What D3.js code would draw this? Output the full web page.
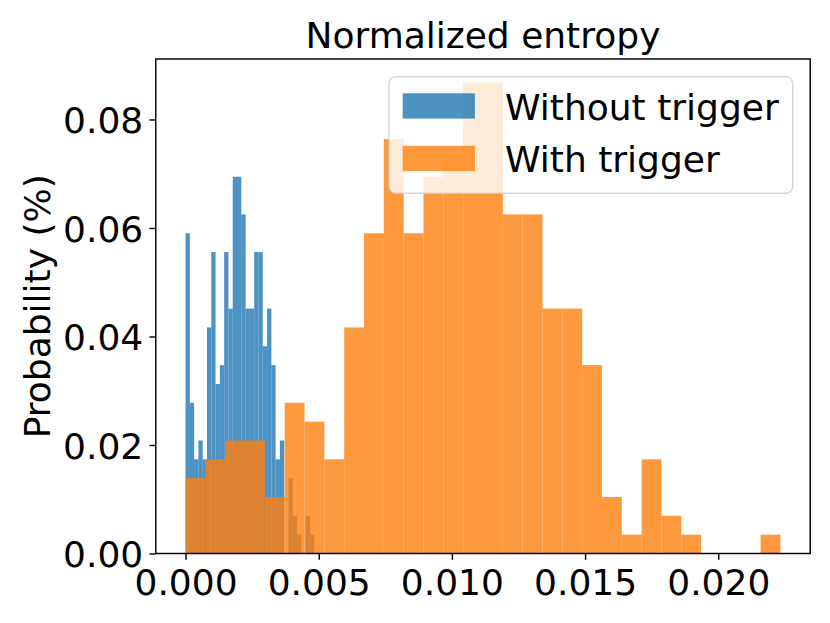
<!DOCTYPE html>
<html lang="en">

<head>
	<meta charset="utf-8">
	<title>Normalized entropy</title>
	<style>
		body { margin: 0; background: #fff; }
		svg { display: block; font-family: "DejaVu Sans", sans-serif; }
	</style>
</head>

<body>
	<script src="https://cdn.jsdelivr.net/npm/d3@7"></script>
	<script>
		// histogram counts per bin (30 bins each)
		const seriesNames = ["Without trigger", "With trigger"];
		const withoutCounts = [17, 8, 5, 6, 5, 12, 16, 9, 10, 16, 13, 20, 20, 18, 13,
			13, 16, 16, 11, 13, 10, 5, 6, 0, 4, 2, 1, 0, 2, 1];
		const withCounts = [4, 5, 6, 6, 3, 8, 7, 5, 12, 17, 22, 17, 20, 21, 25,
			25, 18, 18, 13, 13, 10, 3, 1, 5, 2, 1, 0, 0, 0, 1];
		const withoutRange = [0, 0.004832];
		const withRange = [0, 0.022335];
		const xTicks = [0, 0.005, 0.010, 0.015, 0.020];
		const yTicks = [0, 0.02, 0.04, 0.06, 0.08];

		const width = 830, height = 623;
		const box = { left: 155.8, right: 810.2, top: 59, bottom: 553.5 };
		const fontSize = 36;
		const tickLen = 6.3, lineW = 1.44;
		const colors = ["#1f77b4", "#ff7f0e"];

		function toBins(counts, range) {
			const total = d3.sum(counts);
			const step = (range[1] - range[0]) / counts.length;
			return counts.map((c, i) => ({
				x0: range[0] + i * step,
				x1: range[0] + (i + 1) * step,
				p: c / total
			}));
		}

		const series = [toBins(withoutCounts, withoutRange), toBins(withCounts, withRange)];

		const dataMin = withoutRange[0], dataMax = withRange[1];
		const pad = (dataMax - dataMin) * 0.05;
		const yMax = d3.max(series.flat(), d => d.p) * 1.05;

		const x = d3.scaleLinear()
			.domain([dataMin - pad, dataMax + pad])
			.range([box.left, box.right]);
		const y = d3.scaleLinear()
			.domain([0, yMax])
			.range([box.bottom, box.top]);

		const svg = d3.select("body")
			.append("svg")
			.attr("width", width)
			.attr("height", height);

		// bars
		series.forEach((bins, k) => {
			svg.append("g")
				.attr("fill", colors[k])
				.attr("fill-opacity", 0.8)
				.selectAll("rect")
				.data(bins.filter(d => d.p > 0))
				.join("rect")
				.attr("x", d => x(d.x0))
				.attr("width", d => x(d.x1) - x(d.x0))
				.attr("y", d => y(d.p))
				.attr("height", d => y(0) - y(d.p));
		});

		// axes
		const xAxis = svg.append("g")
			.attr("transform", `translate(0,${box.bottom})`)
			.call(d3.axisBottom(x).tickValues(xTicks).tickFormat(d3.format(".3f"))
				.tickSize(tickLen).tickPadding(6.3).tickSizeOuter(0));
		const yAxis = svg.append("g")
			.attr("transform", `translate(${box.left},0)`)
			.call(d3.axisLeft(y).tickValues(yTicks).tickFormat(d3.format(".2f"))
				.tickSize(tickLen).tickPadding(6.3).tickSizeOuter(0));

		[xAxis, yAxis].forEach(a => {
			a.select(".domain").remove();
			a.selectAll(".tick line").attr("stroke", "#000").attr("stroke-width", lineW);
			a.selectAll(".tick text")
				.attr("fill", "#000")
				.style("font-family", "DejaVu Sans")
				.style("font-size", fontSize + "px");
		});
		xAxis.selectAll(".tick text").attr("dy", null).attr("y", 41);
		yAxis.selectAll(".tick text").attr("dy", "0.37em");

		// frame
		svg.append("rect")
			.attr("x", box.left)
			.attr("y", box.top)
			.attr("width", box.right - box.left)
			.attr("height", box.bottom - box.top)
			.attr("fill", "none")
			.attr("stroke", "#000")
			.attr("stroke-width", lineW);

		// title and y label
		svg.append("text")
			.attr("x", (box.left + box.right) / 2)
			.attr("y", 48)
			.attr("text-anchor", "middle")
			.style("font-size", fontSize + "px")
			.text("Normalized entropy");

		svg.append("text")
			.attr("transform", `translate(50,${(box.top + box.bottom) / 2}) rotate(-90)`)
			.attr("text-anchor", "middle")
			.style("font-size", fontSize + "px")
			.text("Probability (%)");

		// legend
		const legend = svg.append("g");
		legend.append("rect")
			.attr("x", 389)
			.attr("y", 76.7)
			.attr("width", 403.7)
			.attr("height", 116.6)
			.attr("rx", 7)
			.attr("fill", "#fff")
			.attr("fill-opacity", 0.8)
			.attr("stroke", "#cccccc")
			.attr("stroke-opacity", 0.8)
			.attr("stroke-width", lineW);

		const item = legend.selectAll("g.item")
			.data(seriesNames)
			.join("g")
			.attr("class", "item")
			.attr("transform", (d, i) => `translate(0,${i * 52.5})`);
		item.append("rect")
			.attr("x", 402.7)
			.attr("y", 93.3)
			.attr("width", 72.2)
			.attr("height", 25.3)
			.attr("fill", (d, i) => colors[i])
			.attr("fill-opacity", 0.8);
		item.append("text")
			.attr("x", 505)
			.attr("y", 119.5)
			.style("font-size", fontSize + "px")
			.text(d => d);
	</script>
</body>

</html>
